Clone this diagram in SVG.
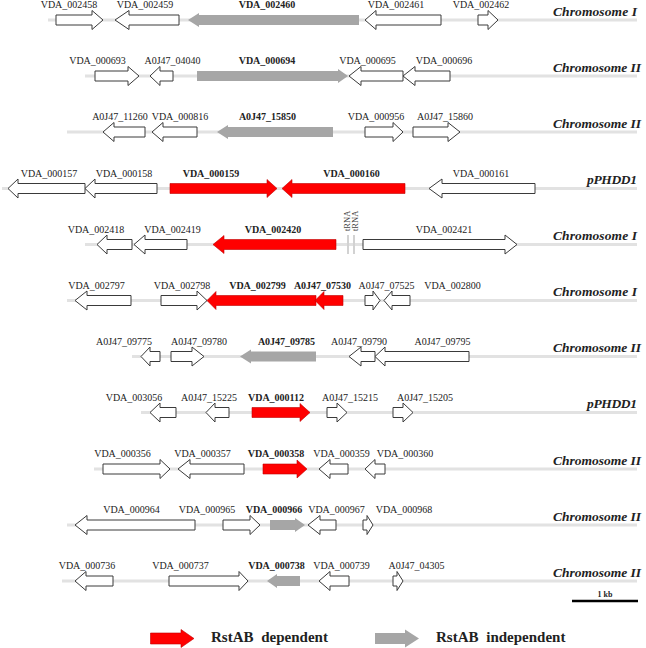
<svg xmlns="http://www.w3.org/2000/svg" width="646" height="648" viewBox="0 0 646 648">
<style>
.bb{stroke:#e2e2e2;stroke-width:3;fill:none}
.w{fill:#fff;stroke:#3a3a3a;stroke-width:1}
.r{fill:#ff0000;stroke:#c00000;stroke-width:0.6}
.g{fill:#a6a6a6}
.lbl{font-family:"Liberation Serif","Times New Roman",serif;font-size:10px;text-anchor:middle;fill:#222}
.b{font-weight:bold}
.chr{font-family:"Liberation Serif","Times New Roman",serif;font-size:13.5px;font-style:italic;font-weight:bold;fill:#222}
.trna{stroke:#d2d2d2;stroke-width:2}
.tr{font-family:"Liberation Serif","Times New Roman",serif;font-size:8.5px;fill:#444}
.leg{font-family:"Liberation Serif","Times New Roman",serif;font-size:15px;font-weight:bold;fill:#222;word-spacing:4px}
</style>
<rect width="646" height="648" fill="#fff"/>
<g id="connectors">
<line class="bb" x1="48" y1="20" x2="637" y2="20"/>
<line class="bb" x1="85" y1="76" x2="637" y2="76"/>
<line class="bb" x1="67" y1="132" x2="637" y2="132"/>
<line class="bb" x1="2" y1="188.5" x2="637" y2="188.5"/>
<line class="bb" x1="85" y1="244.5" x2="637" y2="244.5"/>
<line class="bb" x1="67" y1="300.5" x2="637" y2="300.5"/>
<line class="bb" x1="132" y1="356.5" x2="637" y2="356.5"/>
<line class="bb" x1="141" y1="412.5" x2="637" y2="412.5"/>
<line class="bb" x1="94" y1="469" x2="637" y2="469"/>
<line class="bb" x1="67" y1="525" x2="637" y2="525"/>
<line class="bb" x1="62" y1="581" x2="637" y2="581"/>
</g>
<g id="row-labels">
<text class="chr" x="553" y="15.5" textLength="84">Chromosome I</text>
<text class="chr" x="553" y="71.5" textLength="88">Chromosome II</text>
<text class="chr" x="553" y="127.5" textLength="88">Chromosome II</text>
<text class="chr" x="587" y="184" textLength="50">pPHDD1</text>
<text class="chr" x="553" y="240" textLength="84">Chromosome I</text>
<text class="chr" x="553" y="296" textLength="84">Chromosome I</text>
<text class="chr" x="553" y="352" textLength="88">Chromosome II</text>
<text class="chr" x="587" y="408" textLength="50">pPHDD1</text>
<text class="chr" x="553" y="464.5" textLength="88">Chromosome II</text>
<text class="chr" x="553" y="520.5" textLength="88">Chromosome II</text>
<text class="chr" x="553" y="576.5" textLength="88">Chromosome II</text>
</g>
<!-- Row 1 -->
<g id="VDA_002458"><path class="w" d="M56,15H92V10.5L103,20L92,29.5V25H56Z"/><text class="lbl" x="69" y="8">VDA_002458</text></g>
<g id="VDA_002459"><path class="w" d="M179,15H129V10.5L115,20L129,29.5V25H179Z"/><text class="lbl" x="145" y="8">VDA_002459</text></g>
<g id="VDA_002460"><path class="g" d="M359,15H199V13L188,20L199,27V25H359Z"/><text class="lbl b" x="267" y="8">VDA_002460</text></g>
<g id="VDA_002461"><path class="w" d="M441,15H376V10.5L365,20L376,29.5V25H441Z"/><text class="lbl" x="396" y="8">VDA_002461</text></g>
<g id="VDA_002462"><path class="w" d="M478,15H488V10.5L498,20L488,29.5V25H478Z"/><text class="lbl" x="481" y="8">VDA_002462</text></g>
<!-- Row 2 -->
<g id="VDA_000693"><path class="w" d="M95,71H128V66.5L139,76L128,85.5V81H95Z"/><text class="lbl" x="97.5" y="64">VDA_000693</text></g>
<g id="A0J47_04040"><path class="w" d="M173,71H160V66.5L150,76L160,85.5V81H173Z"/><text class="lbl" x="172.5" y="64">A0J47_04040</text></g>
<g id="VDA_000694"><path class="g" d="M197,71H338V69L348,76L338,83V81H197Z"/><text class="lbl b" x="267" y="64">VDA_000694</text></g>
<g id="VDA_000695"><path class="w" d="M403,71H361V66.5L349,76L361,85.5V81H403Z"/><text class="lbl" x="367.5" y="64">VDA_000695</text></g>
<g id="VDA_000696"><path class="w" d="M450,71H415V66.5L403,76L415,85.5V81H450Z"/><text class="lbl" x="444" y="64">VDA_000696</text></g>
<!-- Row 3 -->
<g id="A0J47_11260"><path class="w" d="M145,127H114V122.5L103,132L114,141.5V137H145Z"/><text class="lbl" x="120" y="120">A0J47_11260</text></g>
<g id="VDA_000816"><path class="w" d="M197,127H163V122.5L152,132L163,141.5V137H197Z"/><text class="lbl" x="180" y="120">VDA_000816</text></g>
<g id="A0J47_15850"><path class="g" d="M333,127H228V125L217,132L228,139V137H333Z"/><text class="lbl b" x="267.5" y="120">A0J47_15850</text></g>
<g id="VDA_000956"><path class="w" d="M365,127H393V122.5L403,132L393,141.5V137H365Z"/><text class="lbl" x="376" y="120">VDA_000956</text></g>
<g id="A0J47_15860"><path class="w" d="M413,127H448V122.5L460,132L448,141.5V137H413Z"/><text class="lbl" x="445" y="120">A0J47_15860</text></g>
<!-- Row 4 -->
<g id="VDA_000157"><path class="w" d="M85,183.5H18V179L8,188.5L18,198V193.5H85Z"/><text class="lbl" x="49" y="176.5">VDA_000157</text></g>
<g id="VDA_000158"><path class="w" d="M157,183.5H95V179L85,188.5L95,198V193.5H157Z"/><text class="lbl" x="124" y="176.5">VDA_000158</text></g>
<g id="VDA_000159"><path class="r" d="M170,183.5H267V179.5L277,188.5L267,197.5V193.5H170Z"/><text class="lbl b" x="211" y="176.5">VDA_000159</text></g>
<g id="VDA_000160"><path class="r" d="M405,183.5H292V179.5L282,188.5L292,197.5V193.5H405Z"/><text class="lbl b" x="351.5" y="176.5">VDA_000160</text></g>
<g id="VDA_000161"><path class="w" d="M535,183.5H442V179L429,188.5L442,198V193.5H535Z"/><text class="lbl" x="481" y="176.5">VDA_000161</text></g>
<!-- Row 5 -->
<g id="VDA_002418"><path class="w" d="M132,239.5H107V235L97,244.5L107,254V249.5H132Z"/><text class="lbl" x="96" y="232.5">VDA_002418</text></g>
<g id="VDA_002419"><path class="w" d="M187,239.5H145V235L134,244.5L145,254V249.5H187Z"/><text class="lbl" x="172.5" y="232.5">VDA_002419</text></g>
<g id="VDA_002420"><path class="r" d="M336,239.5H224V235.5L213,244.5L224,253.5V249.5H336Z"/><text class="lbl b" x="273" y="232.5">VDA_002420</text></g>
<g id="tRNA_1"><line class="trna" x1="348" y1="235" x2="348" y2="254"/><text class="tr" transform="translate(349.5,231) rotate(-90)">tRNA</text></g>
<g id="tRNA_2"><line class="trna" x1="354" y1="235" x2="354" y2="254"/><text class="tr" transform="translate(357.5,231) rotate(-90)">tRNA</text></g>
<g id="VDA_002421"><path class="w" d="M363,239.5H505V235L517,244.5L505,254V249.5H363Z"/><text class="lbl" x="444" y="232.5">VDA_002421</text></g>
<!-- Row 6 -->
<g id="VDA_002797"><path class="w" d="M131,295.5H87V291L75,300.5L87,310V305.5H131Z"/><text class="lbl" x="96.5" y="288.5">VDA_002797</text></g>
<g id="VDA_002798"><path class="w" d="M161,295.5H197V291L207,300.5L197,310V305.5H161Z"/><text class="lbl" x="182" y="288.5">VDA_002798</text></g>
<g id="VDA_002799"><path class="r" d="M316,295.5H216V291.5L207,300.5L216,309.5V305.5H316Z"/><text class="lbl b" x="257.5" y="288.5">VDA_002799</text></g>
<g id="A0J47_07530"><path class="r" d="M343,295.5H324V291.5L315,300.5L324,309.5V305.5H343Z"/><text class="lbl b" x="322.5" y="288.5">A0J47_07530</text></g>
<g id="A0J47_07525"><path class="w" d="M365,295.5H373V291L380,300.5L373,310V305.5H365Z"/><text class="lbl" x="386.5" y="288.5">A0J47_07525</text></g>
<g id="VDA_002800"><path class="w" d="M410,295.5H392V291L384,300.5L392,310V305.5H410Z"/><text class="lbl" x="452.5" y="288.5">VDA_002800</text></g>
<!-- Row 7 -->
<g id="A0J47_09775"><path class="w" d="M160,351.5H150V347L141,356.5L150,366V361.5H160Z"/><text class="lbl" x="124" y="344.5">A0J47_09775</text></g>
<g id="A0J47_09780"><path class="w" d="M171,351.5H192V347L204,356.5L192,366V361.5H171Z"/><text class="lbl" x="199" y="344.5">A0J47_09780</text></g>
<g id="A0J47_09785"><path class="g" d="M316,351.5H251V349.5L240,356.5L251,363.5V361.5H316Z"/><text class="lbl b" x="286.5" y="344.5">A0J47_09785</text></g>
<g id="A0J47_09790"><path class="w" d="M375,351.5H361V347L349,356.5L361,366V361.5H375Z"/><text class="lbl" x="359" y="344.5">A0J47_09790</text></g>
<g id="A0J47_09795"><path class="w" d="M469,351.5H385V347L375,356.5L385,366V361.5H469Z"/><text class="lbl" x="442.5" y="344.5">A0J47_09795</text></g>
<!-- Row 8 -->
<g id="VDA_003056"><path class="w" d="M176,407.5H160V403L150,412.5L160,422V417.5H176Z"/><text class="lbl" x="134" y="400.5">VDA_003056</text></g>
<g id="A0J47_15225"><path class="w" d="M229,407.5H215V403L206,412.5L215,422V417.5H229Z"/><text class="lbl" x="209" y="400.5">A0J47_15225</text></g>
<g id="VDA_000112"><path class="r" d="M252,407.5H300V403.5L310,412.5L300,421.5V417.5H252Z"/><text class="lbl b" x="276" y="400.5">VDA_000112</text></g>
<g id="A0J47_15215"><path class="w" d="M327,407.5H337V403L347,412.5L337,422V417.5H327Z"/><text class="lbl" x="350" y="400.5">A0J47_15215</text></g>
<g id="A0J47_15205"><path class="w" d="M393,407.5H403V403L413,412.5L403,422V417.5H393Z"/><text class="lbl" x="425" y="400.5">A0J47_15205</text></g>
<!-- Row 9 -->
<g id="VDA_000356"><path class="w" d="M103,464H160V459.5L170,469L160,478.5V474H103Z"/><text class="lbl" x="122.5" y="457">VDA_000356</text></g>
<g id="VDA_000357"><path class="w" d="M244,464H190V459.5L178,469L190,478.5V474H244Z"/><text class="lbl" x="202.5" y="457">VDA_000357</text></g>
<g id="VDA_000358"><path class="r" d="M263,464H297V460L307,469L297,478V474H263Z"/><text class="lbl b" x="276" y="457">VDA_000358</text></g>
<g id="VDA_000359"><path class="w" d="M348,464H330V459.5L319,469L330,478.5V474H348Z"/><text class="lbl" x="341.5" y="457">VDA_000359</text></g>
<g id="VDA_000360"><path class="w" d="M385,464H375V459.5L365,469L375,478.5V474H385Z"/><text class="lbl" x="405" y="457">VDA_000360</text></g>
<!-- Row 10 -->
<g id="VDA_000964"><path class="w" d="M195,520H87V515.5L75,525L87,534.5V530H195Z"/><text class="lbl" x="131.5" y="513">VDA_000964</text></g>
<g id="VDA_000965"><path class="w" d="M223,520H250V515.5L260,525L250,534.5V530H223Z"/><text class="lbl" x="207" y="513">VDA_000965</text></g>
<g id="VDA_000966"><path class="g" d="M270,520H295V518L305,525L295,532V530H270Z"/><text class="lbl b" x="274" y="513">VDA_000966</text></g>
<g id="VDA_000967"><path class="w" d="M336,520H320V515.5L308,525L320,534.5V530H336Z"/><text class="lbl" x="336.5" y="513">VDA_000967</text></g>
<g id="VDA_000968"><path class="w" d="M363,520H367V515.5L373,525L367,534.5V530H363Z"/><text class="lbl" x="404" y="513">VDA_000968</text></g>
<!-- Row 11 -->
<g id="VDA_000736"><path class="w" d="M113,576H86V571.5L75,581L86,590.5V586H113Z"/><text class="lbl" x="87" y="569">VDA_000736</text></g>
<g id="VDA_000737"><path class="w" d="M169,576H239V571.5L248,581L239,590.5V586H169Z"/><text class="lbl" x="180.5" y="569">VDA_000737</text></g>
<g id="VDA_000738"><path class="g" d="M300,576H277V574L267,581L277,588V586H300Z"/><text class="lbl b" x="276.5" y="569">VDA_000738</text></g>
<g id="VDA_000739"><path class="w" d="M349,576H330V571.5L319,581L330,590.5V586H349Z"/><text class="lbl" x="341.5" y="569">VDA_000739</text></g>
<g id="A0J47_04305"><path class="w" d="M393,576H397V571.5L403,581L397,590.5V586H393Z"/><text class="lbl" x="416.5" y="569">A0J47_04305</text></g>
<!-- Scale bar -->
<g id="scale-bar"><line x1="572" y1="601" x2="638" y2="601" stroke="#000" stroke-width="2.5"/><text x="605" y="597" text-anchor="middle" font-family="Liberation Serif, serif" font-size="8" font-weight="bold" fill="#222">1 kb</text></g>
<!-- Legend -->
<g id="legend-dependent"><path class="r" d="M150.5,633H181V629.5L194,638.5L181,647.5V644H150.5Z"/><text class="leg" x="211" y="642">RstAB dependent</text></g>
<g id="legend-independent"><path class="g" d="M375,633H405V629.5L419,638.5L405,647.5V644H375Z"/><text class="leg" x="436" y="642">RstAB independent</text></g>
</svg>
